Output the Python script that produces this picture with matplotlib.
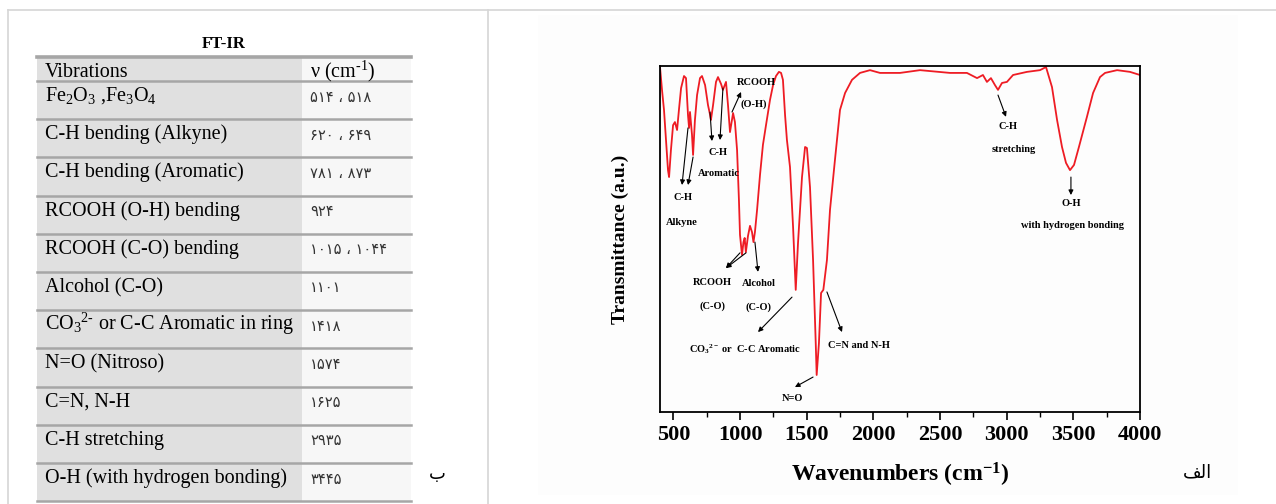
import matplotlib
matplotlib.use("Agg")
import matplotlib.pyplot as plt
from matplotlib.patches import Rectangle
from matplotlib.ticker import MultipleLocator

plt.rcParams['font.family'] = ['Liberation Serif', 'DejaVu Sans']
plt.rcParams['mathtext.fontset'] = 'custom'
plt.rcParams['mathtext.rm'] = 'Liberation Serif'
plt.rcParams['mathtext.it'] = 'Liberation Serif:italic'
plt.rcParams['mathtext.bf'] = 'Liberation Serif:bold'

# ---- table data ----
vibrations = [r"Fe$_2$O$_3$ ,Fe$_3$O$_4$",
              "C-H bending (Alkyne)",
              "C-H bending (Aromatic)",
              "RCOOH (O-H) bending",
              "RCOOH (C-O) bending",
              "Alcohol (C-O)",
              r"CO$_3$$^{2\text{-}}$ or C-C Aromatic in ring",
              "N=O (Nitroso)",
              "C=N, N-H",
              "C-H stretching",
              "O-H (with hydrogen bonding)"]
peaks = [(514, 518), (620, 649), (781, 873), (924,), (1015, 1044), (1101,),
         (1418,), (1574,), (1625,), (2935,), (3445,)]

# ---- spectrum data ----
wavenumber = [400, 415, 430, 445, 460, 468, 482, 498, 512, 528, 542, 558, 580, 595,
              610, 618, 625, 640, 648, 662, 678, 700, 715, 738, 760, 775, 782, 798,
              820, 835, 858, 872, 895, 910, 925, 948, 962, 978, 992, 1000, 1015, 1026,
              1035, 1044, 1060, 1075, 1090, 1101, 1112, 1128, 1150, 1172, 1195, 1225,
              1248, 1270, 1292, 1308, 1322, 1338, 1352, 1375, 1398, 1418, 1435, 1465,
              1488, 1502, 1525, 1548, 1568, 1575, 1592, 1608, 1625, 1652, 1675, 1712,
              1750, 1788, 1840, 1900, 1975, 2050, 2125, 2200, 2350, 2575, 2702, 2778,
              2822, 2852, 2882, 2912, 2935, 2965, 3002, 3048, 3152, 3250, 3295, 3340,
              3378, 3415, 3445, 3475, 3505, 3542, 3602, 3648, 3700, 3738, 3828, 3925,
              4000]
transmittance = [99.7, 93.1, 87.3, 78.6, 69.9, 67.9, 75.7, 82.9, 83.8, 81.5, 87.3, 93.6, 97.1, 96.5,
                 85.8, 82.1, 86.7, 80.1, 74.3, 84.4, 91.6, 96.5, 97.1, 94.5, 88.7, 86.0, 84.4, 88.7,
                 95.4, 96.8, 94.8, 93.1, 95.4, 88.7, 80.9, 86.4, 83.8, 75.7, 61.3, 51.2, 45.4, 49.1,
                 50.3, 46.2, 50.9, 53.8, 52.0, 49.1, 52.0, 58.4, 68.5, 77.2, 82.9, 90.2,
                 94.5, 97.1, 98.3, 98.0, 96.0, 85.8, 78.6, 70.8, 53.5, 35.3, 48.8, 67.9,
                 76.6, 76.3, 65.0, 43.9, 19.9, 10.7, 19.9, 34.4, 35.3, 43.9, 58.4, 72.8,
                 87.3, 92.2, 96.0, 98.0, 98.8, 98.0, 98.0, 98.0, 98.8, 98.0, 98.0, 96.5,
                 97.4, 95.4, 96.5, 94.5, 93.1, 95.1, 95.4, 97.4, 98.3, 98.8, 99.7, 93.9,
                 84.4, 76.6, 72.0, 69.9, 71.4, 76.6, 85.3, 92.2, 96.8, 98.0, 98.8, 98.3,
                 97.4]

fa_digits = str.maketrans("0123456789", "۰۱۲۳۴۵۶۷۸۹")

def fa(vals):
	return " ، ".join(str(v).translate(fa_digits) for v in vals)

fig = plt.figure(figsize=(12.76, 5.04), dpi=100)
bg = fig.add_axes([0, 0, 1, 1])
bg.set_xlim(0, 1276)
bg.set_ylim(504, 0)
bg.axis('off')

# page frame
frame = '#d6d6d6'
bg.plot([8, 1276], [10, 10], color=frame, lw=1.2)
bg.plot([8, 8], [10, 504], color=frame, lw=1.2)
bg.plot([488, 488], [10, 504], color=frame, lw=1.2)
bg.add_patch(Rectangle((538, 15), 700, 480, color='#fdfdfd', lw=0))

# table
t_left, t_mid, t_right = 37, 302, 411
t_top, h_bot, row_h = 57, 81, 38.2
t_bot = h_bot + row_h * len(vibrations)
bg.add_patch(Rectangle((t_left, t_top), t_mid - t_left, t_bot - t_top, color='#e0e0e0', lw=0))
bg.add_patch(Rectangle((t_mid, t_top), t_right - t_mid, t_bot - t_top, color='#f7f7f7', lw=0))
bg.plot([t_left, t_right], [t_top, t_top], color='#a6a6a6', lw=2.6)
for i in range(len(vibrations) + 1):
	y = h_bot + i * row_h
	bg.plot([t_left, t_right], [y, y], color='#a6a6a6', lw=1.8)

bg.text((t_left + t_right) / 2, 44, "FT-IR", ha='center', va='center', fontsize=12, fontweight='bold')
bg.text(45, t_top + 20, "Vibrations", fontsize=14.5, va='baseline')
bg.text(310, t_top + 20, r"ν (cm$^{\text{-}1}$)", fontsize=14.5, va='baseline')
for i, (name, vals) in enumerate(zip(vibrations, peaks)):
	top = h_bot + i * row_h
	bg.text(45, top + 20, name, fontsize=14.5, va='baseline')
	bg.text(310, top + 20.5, fa(vals), fontsize=10.5, va='baseline', color='#333333',
	        family=['DejaVu Sans'])

bg.text(437, 474, "ب", fontsize=13, ha='center', va='center', family=['DejaVu Sans'])
bg.text(1197, 472, "\ufed2\ufedf\ufe8d", fontsize=13, ha='center', va='center', family=['DejaVu Sans'])

# spectrum
ax = fig.add_axes([660 / 1276, 1 - 412 / 504, 480 / 1276, 346 / 504])
ax.set_facecolor('none')
ax.plot(wavenumber, transmittance, color='#ee1c24', lw=1.3)
ax.set_xlim(400, 4000)
ax.set_ylim(0, 100)
ax.set_yticks([])
ax.set_xticks(range(500, 4001, 500))
ax.xaxis.set_minor_locator(MultipleLocator(250))
ax.tick_params(axis='x', which='major', length=6, width=1.2, pad=3, labelsize=16)
ax.tick_params(axis='x', which='minor', length=3.5, width=1.0)
for lab in ax.get_xticklabels():
	lab.set_fontweight('bold')
for s in ax.spines.values():
	s.set_linewidth(1.3)

ax.set_xlabel(r"Wavenumbers (cm$^{\mathbf{-1}}$)", fontsize=17, fontweight='bold')
ax.xaxis.set_label_coords(0.5, -0.14)
ax.set_ylabel("Transmittance (a.u.)", fontsize=14, fontweight='bold')
ax.yaxis.set_label_coords(-0.065, 0.5)

labels = [("C-H", 572, 62.1), ("Alkyne", 565, 54.9),
          ("Aromatic", 842, 68.8), ("C-H", 835, 75.1),
          ("RCOOH", 1120, 95.1), ("(O-H)", 1105, 89.0),
          ("RCOOH", 790, 37.3), ("(C-O)", 790, 30.6),
          ("Alcohol", 1142, 37.0), ("(C-O)", 1135, 30.3),
          (r"CO$_\mathbf{3}$$^{\mathbf{2-}}$ or  C-C Aromatic", 1038, 18.2),
          ("C=N and N-H", 1892, 19.1),
          ("N=O", 1390, 4.0),
          ("C-H", 3010, 82.4), ("stretching", 3055, 76.0),
          ("O-H", 3482, 60.4), ("with hydrogen bonding", 3497, 53.8)]
for txt, x, y in labels:
	ax.text(x, y, txt, ha='center', va='center', fontsize=7.5, fontweight='bold')

arrows = [(610, 82.1, 565, 65.6), (648, 73.7, 610, 65.6),
          (775, 86.7, 790, 78.3), (872, 93.6, 850, 78.6),
          (940, 86.7, 1008, 92.5),
          (1000, 46.0, 895, 41.6), (1045, 46.0, 895, 41.6),
          (1112, 49.1, 1135, 40.5),
          (1390, 33.2, 1135, 23.1),
          (1652, 34.7, 1765, 23.1),
          (1548, 10.1, 1412, 7.2),
          (2935, 91.6, 2995, 85.3),
          (3482, 67.9, 3482, 62.7)]
for x0, y0, x1, y1 in arrows:
	ax.annotate('', xy=(x1, y1), xytext=(x0, y0),
	            arrowprops=dict(arrowstyle='-|>', lw=0.8, color='black', mutation_scale=7,
	                            shrinkA=0, shrinkB=0))

fig.savefig("out.png", dpi=100)
